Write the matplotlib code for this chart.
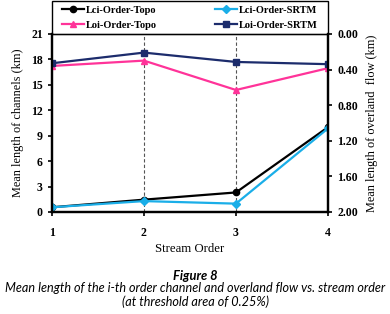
import matplotlib
matplotlib.use('Agg')
import matplotlib.pyplot as plt
from matplotlib.patches import Rectangle
from matplotlib.ticker import FormatStrFormatter

orders = [1, 2, 3, 4]
lci_topo = [0.55, 1.45, 2.3, 10.0]
lci_srtm = [0.55, 1.28, 0.98, 9.85]
loi_topo = [0.36, 0.30, 0.63, 0.385]
loi_srtm = [0.33, 0.21, 0.315, 0.34]

left_ticks = [0, 3, 6, 9, 12, 15, 18, 21]
right_ticks = [0.0, 0.4, 0.8, 1.2, 1.6, 2.0]

serif = 'Liberation Serif'

fig = plt.figure(figsize=(3.9, 3.14), dpi=100)
ax = fig.add_axes([0.133, 0.325, 0.708, 0.567])
ax2 = ax.twinx()

h1, = ax.plot(orders, lci_topo, color='black', marker='o', ms=4.5, lw=1.6,
              label='Lci-Order-Topo')
h3, = ax.plot(orders, lci_srtm, color='#1aaee8', marker='D', ms=4, lw=1.6,
              label='Lci-Order-SRTM')
h2, = ax2.plot(orders, loi_topo, color='#ff3399', marker='^', ms=5, lw=1.6,
               label='Loi-Order-Topo')
h4, = ax2.plot(orders, loi_srtm, color='#1c2c6c', marker='s', ms=5, lw=1.6,
               label='Loi-Order-SRTM')

for xv in [2, 3]:
    ax.axvline(xv, color='#555555', ls=(0, (3, 2)), lw=0.8, zorder=0)

ax.set_xlim(1, 4)
ax.set_ylim(0, 21)
ax.set_yticks(left_ticks)
ax.set_xticks(orders)
ax2.set_ylim(2.0, 0.0)
ax2.set_yticks(right_ticks)
ax2.yaxis.set_major_formatter(FormatStrFormatter('%.2f'))

for a in (ax, ax2):
    a.spines['top'].set_linewidth(0.8)
    for s in ['left', 'right', 'bottom']:
        a.spines[s].set_linewidth(1.6)
    a.tick_params(direction='out', length=3, width=1.2, labelsize=8.5)
    for lab in a.get_xticklabels() + a.get_yticklabels():
        lab.set_fontfamily(serif)
        lab.set_fontweight('bold')
ax.tick_params(axis='x', pad=8)

ax.set_xlabel('Stream Order', fontfamily=serif, fontsize=9.2, labelpad=3)
ax.set_ylabel('Mean length of channels (km)', fontfamily=serif, fontsize=8.8,
              labelpad=5)
ax2.set_ylabel('Mean length of overland  flow (km)', fontfamily=serif,
               fontsize=8.8, labelpad=6)

# legend box sits on top of the plot area
fig.patches.append(Rectangle((0.133, 0.892), 0.708, 0.104, transform=fig.transFigure,
                             fill=False, edgecolor='black', lw=1.0))
fig.legend(handles=[h1, h2, h3, h4], ncol=2, loc='center',
           bbox_to_anchor=(0.487, 0.944), frameon=False,
           prop={'family': serif, 'weight': 'bold', 'size': 7.5},
           handlelength=2.1, handletextpad=0.15, columnspacing=5.6,
           labelspacing=0.55, borderpad=0)

cap = 'Lato'
fig.text(0.5, 0.12, 'Figure 8', ha='center', va='center', fontsize=9.3,
         fontstyle='italic', fontweight='bold', fontfamily=cap)
fig.text(0.5, 0.082, 'Mean length of the i-th order channel and overland flow vs. stream order',
         ha='center', va='center', fontsize=9.1, fontstyle='italic',
         fontfamily=cap)
fig.text(0.5, 0.04, '(at threshold area of 0.25%)', ha='center', va='center',
         fontsize=9.1, fontstyle='italic', fontfamily=cap)

fig.savefig('out.png', dpi=100)
